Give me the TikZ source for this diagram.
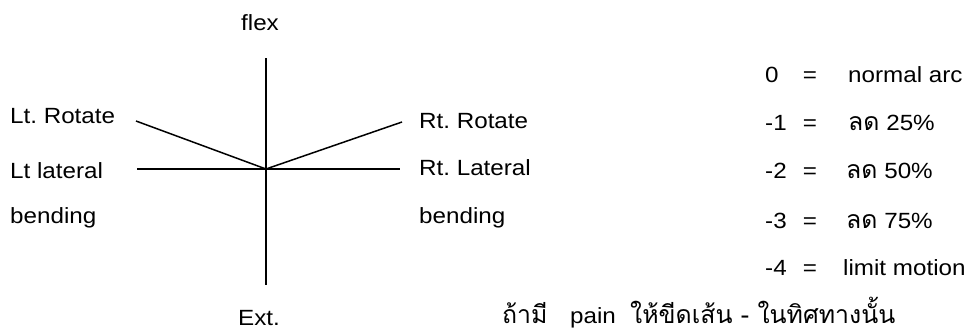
\documentclass[tikz,border=0pt]{standalone}
\usepackage{fontspec}
\setmainfont{Liberation Sans}[FakeStretch=1.1]
\newfontfamily\thaifont[Script=Thai,Scale=1.13]{Loma}
\begin{document}
\begin{tikzpicture}[x=1pt,y=-1pt,
  lbl/.style={anchor=base west,inner sep=0pt,font=\fontsize{22}{26}\selectfont},
  clbl/.style={anchor=base,inner sep=0pt,font=\fontsize{22}{26}\selectfont},
  axis/.style={line width=1.5pt,black}]
\useasboundingbox (0,0) rectangle (976,333);
% axis end points
\coordinate (c) at (266,169);
\coordinate (top) at (266,58);
\coordinate (bot) at (266,285);
\coordinate (hl) at (137,169);
\coordinate (hr) at (400,169);
\coordinate (rl) at (136,121);
\coordinate (rr) at (402,122);
\draw[axis] (top) -- (bot);
\draw[axis] (hl) -- (hr);
\draw[axis] (rl) -- (c) -- (rr);
% labels
\node[clbl] (flex) at (260,30) {flex};
\node[clbl] (ext) at (259,325) {Ext.};
\node[lbl] (ltrot) at (10,123) {Lt.\ Rotate};
\node[lbl] (ltlat) at (10,178) {Lt lateral};
\node[lbl] (ltbend) at (10,223) {bending};
\node[lbl] (rtrot) at (419,128) {Rt.\ Rotate};
\node[lbl] (rtlat) at (419,175) {Rt.\ Lateral};
\node[lbl] (rtbend) at (419,223) {bending};
% legend
\node[lbl] (n0) at (765,82) {0};
\node[lbl] (n1) at (765,130) {-1};
\node[lbl] (n2) at (765,178) {-2};
\node[lbl] (n3) at (765,228) {-3};
\node[lbl] (n4) at (765,275) {-4};
\foreach \y/\n in {82/e0,130/e1,178/e2,228/e3,275/e4}
  \node[clbl] (\n) at (810,\y) {=};
\node[lbl] (t0) at (848,82) {normal arc};
\node[lbl] (t1) at (848,130) {{\thaifont ลด} 25\%};
\node[lbl] (t2) at (846,178) {{\thaifont ลด} 50\%};
\node[lbl] (t3) at (846,228) {{\thaifont ลด} 75\%};
\node[lbl] (t4) at (843,275) {limit motion};
% note
\node[lbl] (th1) at (502,323) {\thaifont ถ้ามี};
\node[lbl] (pain) at (570,323) {pain};
\node[lbl] (th2) at (630,323) {\thaifont ให้ขีดเส้น - ในทิศทางนั้น};
\end{tikzpicture}
\end{document}
